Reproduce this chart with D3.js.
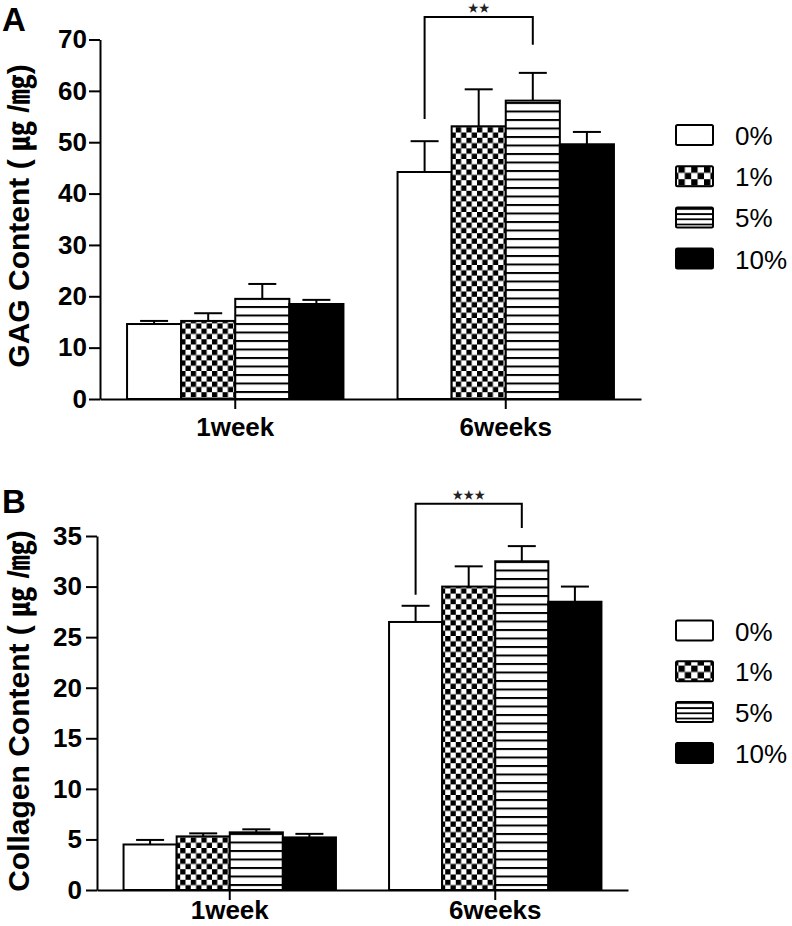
<!DOCTYPE html>
<html>
<head>
<meta charset="utf-8">
<script src="https://cdn.jsdelivr.net/npm/d3@7"></script>
<style>
  html, body { margin: 0; padding: 0; background: #fff; }
  svg { display: block; }
  text { font-family: "Liberation Sans", Arial, "Noto Sans CJK KR", sans-serif; }
</style>
</head>
<body>
<script>
// ---------- data ----------
const groups = ["1week", "6weeks"];
const series = ["0%", "1%", "5%", "10%"];

// GAG content (µg/mg)
const gagMean1w = [14.6, 15.2, 19.5, 18.5];
const gagErr1w  = [0.6, 1.5, 2.9, 0.8];
const gagMean6w = [44.2, 53.1, 58.1, 49.6];
const gagErr6w  = [6.0, 7.2, 5.4, 2.4];
const gagTicks  = [0, 10, 20, 30, 40, 50, 60, 70];

// Collagen content (µg/mg)
const colMean1w = [4.5, 5.3, 5.7, 5.2];
const colErr1w  = [0.45, 0.3, 0.3, 0.35];
const colMean6w = [26.5, 30.0, 32.5, 28.5];
const colErr6w  = [1.6, 2.0, 1.5, 1.5];
const colTicks  = [0, 5, 10, 15, 20, 25, 30, 35];

// significance annotations (values in data units)
const gagSig = { group: "6weeks", from: "0%", to: "5%", left: 54.5, top: 74.4, right: 69.0, label: "★★" };
const colSig = { group: "6weeks", from: "0%", to: "5%", left: 29.2, top: 38.2, right: 35.8, label: "★★★" };

// ---------- drawing ----------
const W = 792, H = 926;
const svg = d3.select("body").append("svg").attr("width", W).attr("height", H);

const defs = svg.append("defs");
function checker(id, s) {
  const p = defs.append("pattern").attr("id", id).attr("patternUnits", "userSpaceOnUse")
    .attr("width", 2 * s).attr("height", 2 * s);
  p.append("rect").attr("width", 2 * s).attr("height", 2 * s).attr("fill", "#fff");
  p.append("rect").attr("width", s).attr("height", s).attr("fill", "#000");
  p.append("rect").attr("x", s).attr("y", s).attr("width", s).attr("height", s).attr("fill", "#000");
}
function hlines(id, s, t) {
  const p = defs.append("pattern").attr("id", id).attr("patternUnits", "userSpaceOnUse")
    .attr("width", 10).attr("height", s);
  p.append("rect").attr("width", 10).attr("height", s).attr("fill", "#fff");
  p.append("rect").attr("y", 0).attr("width", 10).attr("height", t).attr("fill", "#000");
}
checker("chk", 5.3);
checker("chkL", 6.4);
hlines("hl", 8.5, 2);
hlines("hlL", 5.2, 1.8);

const fills = { "0%": "#fff", "1%": "url(#chk)", "5%": "url(#hl)", "10%": "#000" };
const legendFills = { "0%": "#fff", "1%": "url(#chkL)", "5%": "url(#hlL)", "10%": "#000" };

function drawPanel(cfg) {
  const g = svg.append("g");
  const x0 = d3.scaleBand().domain(groups).range([cfg.left, cfg.right]).paddingInner(0.2).paddingOuter(0.1);
  const x1 = d3.scaleBand().domain(series).range([0, x0.bandwidth()]);
  const y = d3.scaleLinear().domain([0, d3.max(cfg.ticks)]).range([cfg.bottom, cfg.top]);

  const rows = [];
  groups.forEach((grp, gi) => {
    series.forEach((s, si) => {
      rows.push({ grp, s, v: cfg.means[gi][si], e: cfg.errs[gi][si] });
    });
  });

  // error bars
  const eb = g.append("g").attr("stroke", "#000").attr("stroke-width", 2).attr("fill", "none");
  rows.forEach(d => {
    const cx = x0(d.grp) + x1(d.s) + x1.bandwidth() / 2;
    eb.append("line").attr("x1", cx).attr("x2", cx).attr("y1", y(d.v)).attr("y2", y(d.v + d.e));
    eb.append("line").attr("x1", cx - 14).attr("x2", cx + 14).attr("y1", y(d.v + d.e)).attr("y2", y(d.v + d.e));
  });

  // bars
  g.append("g").selectAll("rect").data(rows).join("rect")
    .attr("x", d => x0(d.grp) + x1(d.s))
    .attr("y", d => y(d.v))
    .attr("width", x1.bandwidth())
    .attr("height", d => y(0) - y(d.v))
    .attr("fill", d => fills[d.s])
    .attr("stroke", "#000")
    .attr("stroke-width", 2);

  // y axis
  const ya = g.append("g").attr("transform", `translate(${cfg.left},0)`)
    .call(d3.axisLeft(y).tickValues(cfg.ticks).tickSize(11).tickSizeOuter(0).tickPadding(cfg.yPad));
  ya.select(".domain").attr("stroke-width", 2);
  ya.selectAll(".tick line").attr("stroke-width", 2);
  ya.selectAll("text").attr("font-size", 26).attr("font-weight", "bold").attr("fill", "#000")
    .attr("font-family", "'Liberation Sans', Arial, sans-serif");

  // x axis
  const xa = g.append("g").attr("transform", `translate(0,${cfg.bottom})`)
    .call(d3.axisBottom(x0).tickSize(10).tickSizeOuter(0).tickPadding(cfg.xPad));
  xa.select(".domain").attr("stroke-width", 2);
  xa.selectAll(".tick line").attr("stroke-width", 2);
  xa.selectAll("text").attr("font-size", 26).attr("font-weight", "bold").attr("fill", "#000")
    .attr("font-family", "'Liberation Sans', Arial, sans-serif");

  // y label
  g.append("text")
    .attr("transform", `translate(${cfg.labelX},${cfg.labelY}) rotate(-90)`)
    .attr("text-anchor", "middle")
    .attr("font-size", 30).attr("font-weight", "bold")
    .text(cfg.yLabel);

  // panel letter
  g.append("text").attr("x", 2).attr("y", cfg.letterY)
    .attr("font-size", 33).attr("font-weight", "bold").text(cfg.letter);

  // significance bracket
  const sg = cfg.sig;
  const lx = x0(sg.group) + x1(sg.from) + x1.bandwidth() / 2;
  const rx = x0(sg.group) + x1(sg.to) + x1.bandwidth() / 2;
  g.append("path")
    .attr("d", `M${lx},${y(sg.left)} V${y(sg.top)} H${rx} V${y(sg.right)}`)
    .attr("fill", "none").attr("stroke", "#000").attr("stroke-width", 2);
  g.append("text").attr("x", (lx + rx) / 2).attr("y", y(sg.top) - 5)
    .attr("text-anchor", "middle").attr("font-size", 11)
    .attr("font-family", "'DejaVu Sans', sans-serif")
    .attr("fill", "#222").text(sg.label);

  // legend
  const lg = g.append("g");
  series.forEach((s, i) => {
    const ly = cfg.legendTop + i * cfg.legendStep;
    lg.append("rect").attr("x", 676).attr("y", ly).attr("width", 37).attr("height", 20)
      .attr("fill", legendFills[s]).attr("stroke", "#000").attr("stroke-width", 2).attr("rx", 1.5);
    lg.append("text").attr("x", 735).attr("y", ly + 20).attr("font-size", 26).attr("fill", "#000").text(s);
  });
}

drawPanel({
  letter: "A", letterY: 31,
  left: 100, right: 641, top: 39.5, bottom: 399,
  ticks: gagTicks,
  means: [gagMean1w, gagMean6w], errs: [gagErr1w, gagErr6w],
  yPad: 2, xPad: 9,
  yLabel: "GAG Content ( ㎍ /㎎)", labelX: 29, labelY: 216,
  sig: gagSig,
  legendTop: 125, legendStep: 41.2
});

drawPanel({
  letter: "B", letterY: 513,
  left: 97, right: 628, top: 536, bottom: 890,
  ticks: colTicks,
  means: [colMean1w, colMean6w], errs: [colErr1w, colErr6w],
  yPad: 4, xPad: 1,
  yLabel: "Collagen Content ( ㎍ /㎎)", labelX: 29, labelY: 711,
  sig: colSig,
  legendTop: 620.5, legendStep: 40.8
});
</script>
</body>
</html>
